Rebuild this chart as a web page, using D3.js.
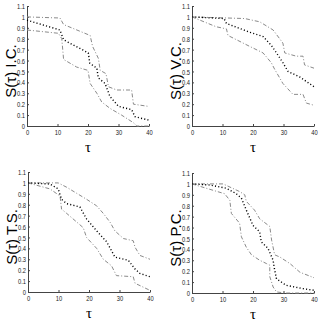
<!DOCTYPE html>
<html>
<head>
<meta charset="utf-8">
<script src="https://cdn.jsdelivr.net/npm/d3@7"></script>
<style>
  body { margin: 0; background: #fff; }
  svg { display: block; }
  .tick text { font-family: "Liberation Sans", Arial, sans-serif; font-size: 8px; fill: #222; }
</style>
</head>
<body>
<div id="chart"></div>
<script>
// survival curves S(tau): [tau, value] pairs
const ic_upper = [[0,1.0],[10.8,0.99],[12,0.93],[20.7,0.83],[21.5,0.73],[23.4,0.62],[24,0.51],[25.9,0.48],[26.7,0.36],[29.4,0.33],[34.3,0.33],[34.9,0.2],[39.8,0.18]];
const ic_mid = [[0,0.97],[10.8,0.88],[12,0.79],[20.1,0.67],[20.6,0.575],[22.9,0.53],[23.4,0.44],[25.6,0.39],[27.2,0.27],[30,0.18],[34.3,0.15],[35.4,0.085],[39.8,0.055]];
const ic_lower = [[0,0.88],[10.3,0.85],[11.4,0.8],[12,0.61],[16.3,0.54],[20,0.51],[20.7,0.39],[22.9,0.3],[24.5,0.22],[27.3,0.16],[31,0.1],[34.9,0.03],[36,0],[40,0]];

const vc_upper = [[0,1.0],[17.3,0.985],[22.2,0.955],[26.6,0.88],[29.8,0.76],[30.4,0.67],[34.2,0.64],[36.4,0.64],[36.9,0.56],[40,0.53]];
const vc_mid = [[0,1.0],[10.5,0.985],[11.3,0.94],[18.9,0.86],[23.3,0.82],[26,0.74],[27.7,0.67],[29.8,0.58],[31.5,0.5],[35.3,0.45],[40,0.36]];
const vc_lower = [[0,1.0],[7.9,0.91],[11.3,0.89],[11.8,0.83],[18.9,0.73],[23.3,0.67],[26,0.58],[27.1,0.52],[29.8,0.39],[33.1,0.29],[36.4,0.29],[37.5,0.21],[40,0.19]];

const ts_upper = [[0,1.0],[9.9,1.0],[12.7,0.96],[19.2,0.85],[22.5,0.79],[24.7,0.72],[26.9,0.64],[28.5,0.56],[31.3,0.49],[34.5,0.47],[35.1,0.41],[36.7,0.335],[40,0.3]];
const ts_mid = [[0,1.0],[7.2,0.99],[9.9,0.945],[11,0.85],[12.7,0.81],[17,0.78],[19.2,0.67],[22.5,0.56],[25.8,0.46],[28.5,0.32],[32.9,0.29],[35.1,0.21],[36.7,0.17],[40,0.14]];
const ts_lower = [[0,1.0],[7.2,0.945],[10.5,0.88],[11,0.76],[12.7,0.72],[18.1,0.59],[19.2,0.5],[22.5,0.4],[24.7,0.3],[27.4,0.24],[29,0.15],[34.5,0.14],[35.1,0.08],[40,0.015]];

const pc_upper = [[0,1.0],[10.2,1.0],[15.6,0.93],[17.3,0.9],[17.8,0.84],[20.5,0.76],[22.2,0.68],[25.5,0.61],[26.1,0.485],[27.1,0.35],[28.8,0.33],[32.1,0.27],[35.4,0.19],[40,0.14]];
const pc_mid = [[0,1.0],[5.8,0.99],[11.3,0.96],[14.5,0.91],[16.2,0.87],[17.8,0.76],[20,0.62],[22.2,0.56],[22.7,0.47],[24.9,0.41],[26.6,0.3],[27.1,0.21],[27.7,0.13],[30.9,0.07],[36.4,0.04],[40,0.025]];
const pc_lower = [[0,1.0],[4.7,0.96],[10.7,0.91],[12.4,0.85],[12.9,0.73],[15.6,0.64],[16.2,0.515],[17.8,0.42],[19.5,0.35],[22.2,0.3],[24.4,0.27],[25.5,0.255],[25.5,0.15],[26.6,0.055],[27.7,0.01],[30.4,0],[40,0]];

const panel_labels = ["S(\u03c4) I.C.", "S(\u03c4) V.C.", "S(\u03c4) T.S.", "S(\u03c4) P.C."];
const x_ticks = [0, 10, 20, 30, 40];
const y_ticks = [0, 0.1, 0.2, 0.3, 0.4, 0.5, 0.6, 0.7, 0.8, 0.9, 1, 1.1];

const panels = [
    {label: panel_labels[0], lines: [ic_upper, ic_mid, ic_lower], x0: 27, y0: 6},
    {label: panel_labels[1], lines: [vc_upper, vc_mid, vc_lower], x0: 192, y0: 6},
    {label: panel_labels[2], lines: [ts_upper, ts_mid, ts_lower], x0: 28, y0: 172},
    {label: panel_labels[3], lines: [pc_upper, pc_mid, pc_lower], x0: 192, y0: 173}
];

const W = 320, H = 321, pw = 122, ph = 120;

const svg = d3.select("#chart").append("svg")
    .attr("width", W)
    .attr("height", H);

// squeeze tick labels, the original uses a narrow face
function narrow(sel) {
    sel.selectAll(".tick text").each(function() {
        let len = this.getComputedTextLength();
        d3.select(this).attr("textLength", len * 0.72).attr("lengthAdjust", "spacingAndGlyphs");
    });
}

panels.forEach(function(p) {
    let g = svg.append("g").attr("transform", "translate(" + p.x0 + "," + p.y0 + ")");
    let x = d3.scaleLinear().domain([0, 40]).range([0, pw]);
    let y = d3.scaleLinear().domain([0, 1.1]).range([ph, 0]);

    let xAxis = g.append("g")
        .attr("transform", "translate(0," + ph + ")")
        .call(d3.axisBottom(x).tickValues(x_ticks).tickSizeInner(-2).tickSizeOuter(0).tickPadding(3));
    let yAxis = g.append("g")
        .call(d3.axisLeft(y).tickValues(y_ticks).tickSizeInner(-2).tickSizeOuter(0).tickPadding(2)
            .tickFormat(function(d) { return d3.format("")(Math.round(d * 10) / 10); }));
    [xAxis, yAxis].forEach(function(a) {
        a.select(".domain").attr("stroke", "#444");
        a.selectAll(".tick line").attr("stroke", "#444");
        narrow(a);
    });

    let line = d3.line().x(function(d) { return x(d[0]); }).y(function(d) { return y(d[1]); });

    // bounds: grey dash-dot
    [p.lines[0], p.lines[2]].forEach(function(s) {
        g.append("path")
            .attr("d", line(s))
            .attr("fill", "none")
            .attr("stroke", "#8a8a8a")
            .attr("stroke-width", 1)
            .attr("stroke-dasharray", "4,2,1,2");
    });
    // estimate: black dotted
    g.append("path")
        .attr("d", line(p.lines[1]))
        .attr("fill", "none")
        .attr("stroke", "#000")
        .attr("stroke-width", 1.4)
        .attr("stroke-dasharray", "1.1,2.2");

    g.append("text")
        .attr("transform", "translate(-11," + (ph / 2 + 5) + ") rotate(-90)")
        .attr("text-anchor", "middle")
        .style("font-family", "'Liberation Sans', Arial, sans-serif")
        .style("font-size", "15px")
        .text(p.label);

    g.append("text")
        .attr("x", pw / 2)
        .attr("y", ph + 26)
        .attr("text-anchor", "middle")
        .style("font-family", "'Liberation Serif', serif")
        .style("font-size", "15px")
        .text("\u03c4");
});
</script>
</body>
</html>
